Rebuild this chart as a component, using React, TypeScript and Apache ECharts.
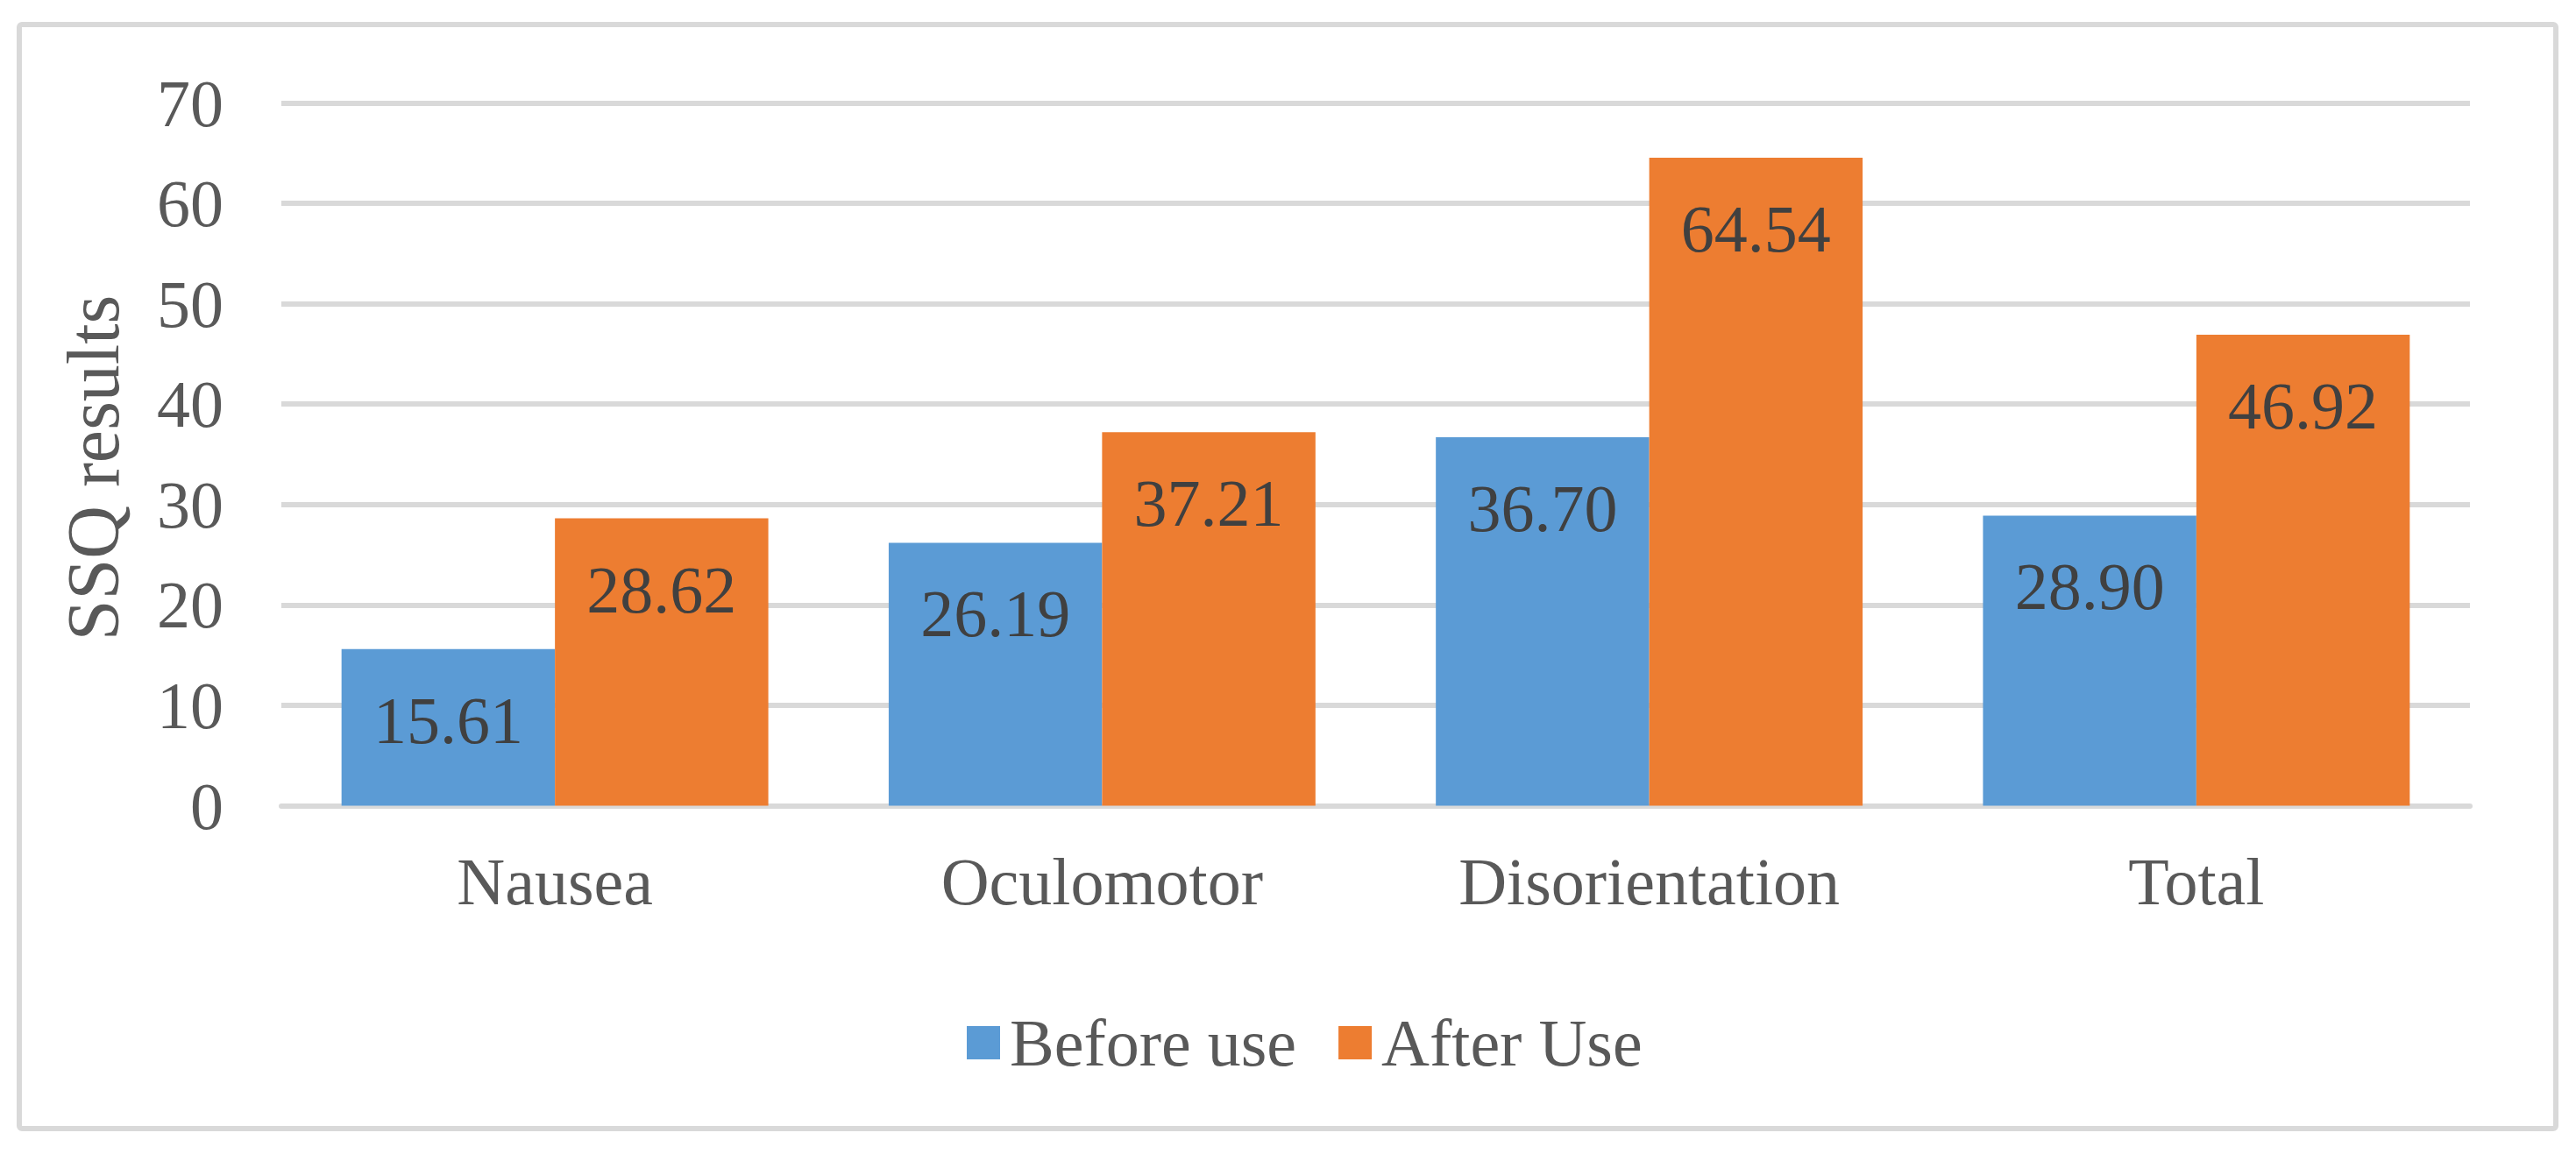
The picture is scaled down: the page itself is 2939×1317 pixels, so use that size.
import React, { useEffect, useRef } from "react";
import * as echarts from "echarts";

const categories = ["Nausea", "Oculomotor", "Disorientation", "Total"];
const beforeUse = [15.61, 26.19, 36.7, 28.9];
const afterUse = [28.62, 37.21, 64.54, 46.92];
const seriesNames = ["Before use", "After Use"];
const yTicks = { min: 0, max: 70, interval: 10 };
const yTitle = "SSQ results";

const FONT = '"Liberation Serif", "Times New Roman", serif';
const TEXT = "#595959";
const GRID = "#D9D9D9";

export default function App() {
  const ref = useRef<HTMLDivElement>(null);
  useEffect(() => {
    document.body.style.margin = "0";
    const chart = echarts.init(ref.current!, null, { renderer: "svg" });
    const label = {
      show: true,
      position: "insideTop",
      distance: 43,
      color: "#404040",
      fontFamily: FONT,
      fontSize: 76,
      formatter: (p: any) => Number(p.value).toFixed(2),
    };
    chart.setOption({
      animation: false,
      backgroundColor: "#fff",
      textStyle: { fontFamily: FONT },
      grid: { left: 321, right: 121, top: 117.5, bottom: 397.5, containLabel: false },
      legend: {
        left: 1098,
        top: 1147,
        itemWidth: 38,
        itemHeight: 38,
        itemGap: 48,
        icon: "rect",
        data: seriesNames,
        textStyle: { color: TEXT, fontSize: 76, fontFamily: FONT, padding: [0, 0, 0, 6] },
      },
      xAxis: {
        type: "category",
        data: categories,
        axisLine: { show: true, lineStyle: { color: GRID, width: 6 } },
        axisTick: { show: false },
        axisLabel: { color: TEXT, fontSize: 76, fontFamily: FONT, margin: 48 },
      },
      yAxis: {
        type: "value",
        min: yTicks.min,
        max: yTicks.max,
        interval: yTicks.interval,
        axisLine: { show: false },
        axisTick: { show: false },
        axisLabel: { color: TEXT, fontSize: 76, fontFamily: FONT, margin: 66 },
        splitLine: { show: true, lineStyle: { color: GRID, width: 6 } },
      },
      graphic: [
        {
          type: "rect",
          left: 19,
          top: 25,
          shape: { width: 2894, height: 1260, r: 3 },
          style: { fill: "none", stroke: GRID, lineWidth: 6 },
          z: -1,
        },
        {
          type: "text",
          x: 106,
          y: 534,
          rotation: Math.PI / 2,
          style: {
            text: yTitle,
            fill: TEXT,
            font: `84px ${FONT}`,
            align: "center",
            verticalAlign: "middle",
          },
        },
      ],
      series: [
        {
          name: seriesNames[0],
          type: "bar",
          data: beforeUse,
          itemStyle: { color: "#5B9BD5" },
          barGap: "0%",
          barCategoryGap: "22%",
          label,
        },
        {
          name: seriesNames[1],
          type: "bar",
          data: afterUse,
          itemStyle: { color: "#ED7D31" },
          barGap: "0%",
          barCategoryGap: "22%",
          label,
        },
      ],
    });
    return () => chart.dispose();
  }, []);
  return <div ref={ref} style={{ width: 2939, height: 1317 }} />;
}
